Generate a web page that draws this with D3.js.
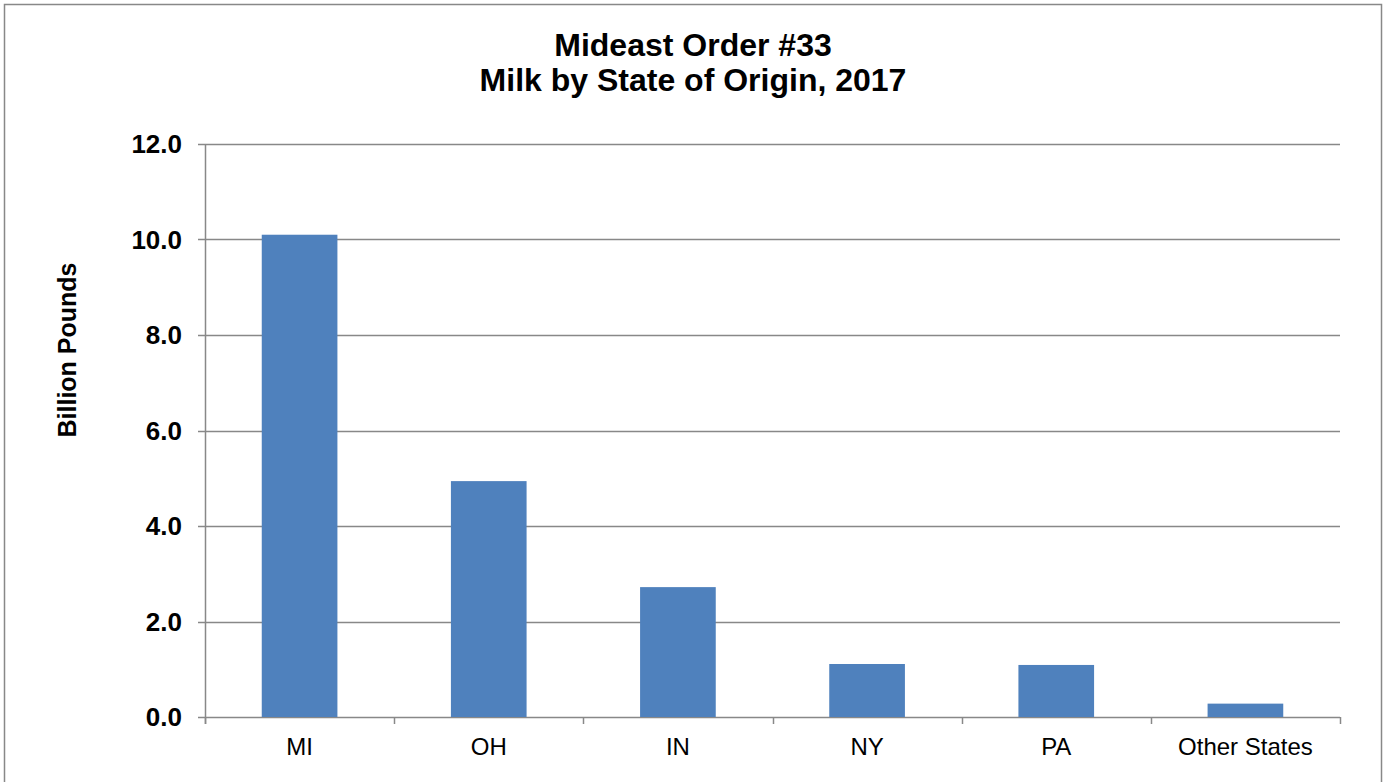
<!DOCTYPE html>
<html><head><meta charset="utf-8">
<script src="https://cdn.jsdelivr.net/npm/d3@7"></script>
<style>body{margin:0;background:#fff;} svg{display:block;font-family:"Liberation Sans",Arial,sans-serif;}</style>
</head><body>
<svg id="c" width="1386" height="782"></svg>
<script>
const categories = ["MI","OH","IN","NY","PA","Other States"];
const values = [10.1, 4.94, 2.72, 1.11, 1.09, 0.28];
const yTicks = [0,2,4,6,8,10,12];
const titleLines = ["Mideast Order #33","Milk by State of Origin, 2017"];
const yTitle = "Billion Pounds";

const svg = d3.select("#c");
svg.append("rect").attr("x",4.5).attr("y",4.5).attr("width",1377).attr("height",800)
  .attr("fill","#fff").attr("stroke","#888").attr("stroke-width",1.5);

const L=205, R=1340, T=144, B=717;
const x = d3.scaleBand().domain(categories).range([L,R]).paddingInner(0.6).paddingOuter(0.3);
const xb = d3.scaleBand().domain(categories).range([L,R]);
const y = d3.scaleLinear().domain([0,12]).range([B,T]);

svg.append("g").selectAll("line").data(yTicks).join("line")
  .attr("x1",L-7).attr("x2",R).attr("y1",d=>Math.round(y(d))+0.5).attr("y2",d=>Math.round(y(d))+0.5)
  .attr("stroke","#888").attr("stroke-width",1.5);

svg.append("g").selectAll("rect").data(values).join("rect")
  .attr("x",(d,i)=>x(categories[i])).attr("width",x.bandwidth())
  .attr("y",d=>y(d)).attr("height",d=>y(0)-y(d))
  .attr("fill","#4F81BD");

svg.append("line").attr("x1",L+0.5).attr("x2",L+0.5).attr("y1",T).attr("y2",B+7)
  .attr("stroke","#888").attr("stroke-width",1.5);
const xt = categories.map(c=>xb(c)).concat([R]);
svg.append("g").selectAll("line").data(xt).join("line")
  .attr("x1",d=>Math.round(d)+0.5).attr("x2",d=>Math.round(d)+0.5).attr("y1",B).attr("y2",B+7)
  .attr("stroke","#888").attr("stroke-width",1.5);

svg.append("g").selectAll("text").data(yTicks).join("text")
  .attr("x",L-23).attr("y",d=>y(d)).attr("dy","0.36em").attr("text-anchor","end")
  .attr("font-size",26).attr("font-weight","bold").text(d=>d.toFixed(1));

svg.append("g").selectAll("text").data(categories).join("text")
  .attr("x",d=>xb(d)+xb.bandwidth()/2).attr("y",755).attr("text-anchor","middle")
  .attr("font-size",24).text(d=>d);

svg.append("g").selectAll("text").data(titleLines).join("text")
  .attr("x",693).attr("y",(d,i)=>56+i*35).attr("text-anchor","middle")
  .attr("font-size",32).attr("font-weight","bold").text(d=>d);

svg.append("text").attr("transform","translate(76,350) rotate(-90)")
  .attr("text-anchor","middle").attr("font-size",25).attr("font-weight","bold").text(yTitle);
</script>
</body></html>
